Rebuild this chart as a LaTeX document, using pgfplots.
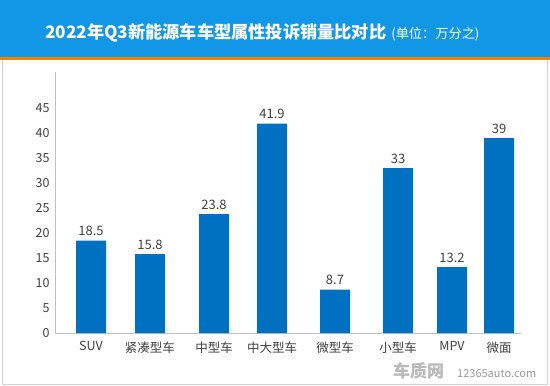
\documentclass[border=0pt]{standalone}
\usepackage{pgfplots}
\pgfplotsset{compat=1.18}
\usepackage{fontspec}
\setmainfont{Noto Sans CJK SC}
\definecolor{titleblue}{RGB}{18,150,230}
\definecolor{orangeline}{RGB}{240,130,0}
\definecolor{barblue}{RGB}{0,112,192}
\definecolor{txt}{RGB}{64,64,64}
\definecolor{axgray}{RGB}{191,191,191}
\begin{document}
\begin{tikzpicture}
% background and frame
\fill[white] (0pt,0pt) rectangle (550pt,-386pt);
\fill[titleblue] (0pt,0pt) rectangle (550pt,-57pt);
\fill[orangeline] (0pt,-57pt) rectangle (550pt,-60pt);
\draw[axgray!70, line width=1.2pt] (2.5pt,-60pt) -- (2.5pt,-384.5pt) -- (547.5pt,-384.5pt) -- (547.5pt,-60pt);
\node[anchor=base west, text=white, inner sep=0pt] at (45pt,-38pt) {\fontsize{17.2}{20}\selectfont\bfseries 2022年Q3新能源车车型属性投诉销量比对比\hspace{5pt}\mdseries\fontsize{13.2}{15}\selectfont(单位：万分之)};
% watermark
\node[anchor=base west, text=gray!55, inner sep=0pt] at (393pt,-377pt) {\fontsize{17}{20}\selectfont\bfseries 车质网};
\node[anchor=base west, text=gray!80, inner sep=0pt] at (457pt,-377pt) {\fontsize{11}{13}\selectfont 12365auto.com};
\begin{axis}[
  at={(55pt,-333pt)}, anchor=south west,
  scale only axis, width=466pt, height=261pt,
  xmin=55, xmax=521, ymin=0, ymax=52.2,
  axis lines*=left,
  axis line style={draw=axgray, line width=0.8pt},
  ybar, bar width=30,
  xtick={91,150,214,272,335,398,452,499},
  xticklabels={SUV,紧凑型车,中型车,中大型车,微型车,小型车,MPV,微面},
  ytick={0,5,...,45},
  major tick length=0pt,
  tick label style={font=\fontsize{12.5}{14}\selectfont, text=txt},
  /pgf/number format/assume math mode=true,
  xticklabel style={yshift=-5pt},
  yticklabel style={xshift=-2pt},
  nodes near coords,
  nodes near coords style={font=\fontsize{13}{15}\selectfont, text=txt, yshift=1pt},
  clip=false,
]
\addplot[fill=barblue, draw=none] coordinates {
(91,18.5) (150,15.8) (214,23.8) (272,41.9) (335,8.7) (398,33) (452,13.2) (499,39)};
\end{axis}
\end{tikzpicture}
\end{document}
